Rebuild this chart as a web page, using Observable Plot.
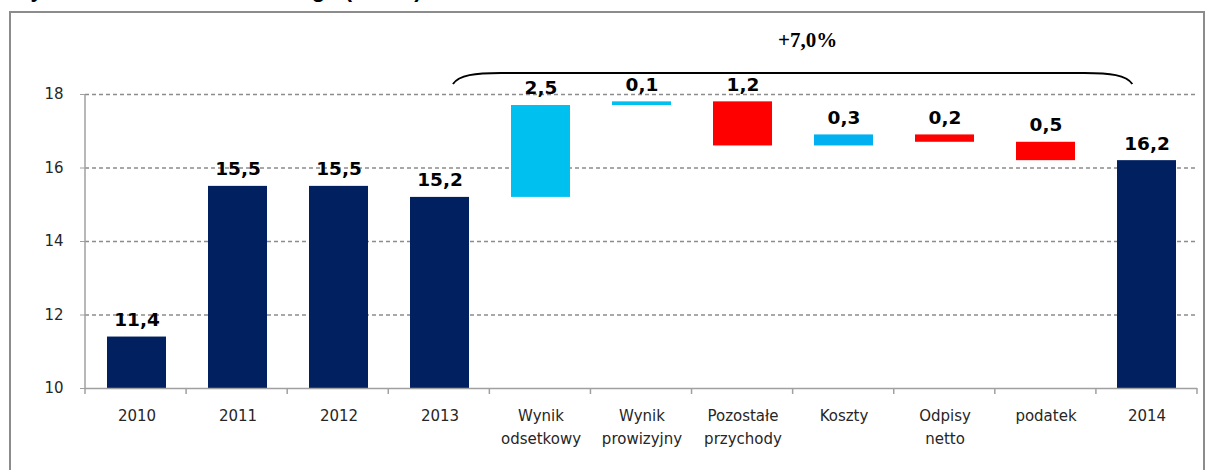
<!DOCTYPE html>
<html>
<head>
<meta charset="utf-8">
<script src="https://cdn.jsdelivr.net/npm/d3@7"></script>
<script src="https://cdn.jsdelivr.net/npm/@observablehq/plot@0.6"></script>
<style>
  html, body { margin: 0; padding: 0; background: #fff; }
  body { width: 1213px; height: 470px; position: relative; overflow: hidden; }
  #title { position: absolute; left: 17px; top: -21px; font: bold 22px/22px "Liberation Sans", Arial, sans-serif; color: #000; white-space: nowrap; }
  #frame { position: absolute; left: 9px; top: 11px; width: 1196px; height: 480px; border: 2px solid #8c8c8c; box-sizing: border-box; }
  #chart { position: absolute; left: 0; top: 0; }
  #chart svg { overflow: visible; }
</style>
</head>
<body>
<div id="title">Zysk netto sektora bankowego (mld zł)</div>
<div id="frame"></div>
<div id="chart"></div>
<script>
// ---- data ----
const categories = ["2010", "2011", "2012", "2013", "Wynik\nodsetkowy", "Wynik\nprowizyjny",
                    "Pozostałe\nprzychody", "Koszty", "Odpisy\nnetto", "podatek", "2014"];
const barFrom = [10, 10, 10, 10, 15.2, 17.7, 17.8, 16.6, 16.9, 16.7, 10];
const barTo   = [11.4, 15.5, 15.5, 15.2, 17.7, 17.8, 16.6, 16.9, 16.7, 16.2, 16.2];
const valueLabels = ["11,4", "15,5", "15,5", "15,2", "2,5", "0,1", "1,2", "0,3", "0,2", "0,5", "16,2"];
const barKinds = ["total", "total", "total", "total", "income", "income", "loss", "costs", "loss", "loss", "total"];
const yTicks = [10, 12, 14, 16, 18];
const changeLabel = "+7,0%";
const bracketFrom = "2013";
const bracketTo = "2014";

// ---- styles ----
const kindDomain = ["total", "income", "costs", "loss"];
const kindColors = ["#002060", "#00C0F0", "#00B0F0", "#FF0000"];
const axisGray = "#a0a0a0";

const data = categories.map((c, i) => ({
  category: c,
  from: barFrom[i],
  to: barTo[i],
  top: Math.max(barFrom[i], barTo[i]),
  label: valueLabels[i],
  kind: barKinds[i]
}));

const svgNS = "http://www.w3.org/2000/svg";
function el(name, attrs) {
  const e = document.createElementNS(svgNS, name);
  for (const k in attrs) e.setAttribute(k, attrs[k]);
  return e;
}

// custom annotation mark: axis lines, category ticks, bracket and change label
function annotations(...args) {
  let scales, dims;
  if (args[1] && typeof args[1].y === "function") { scales = args[1]; dims = args[3]; }
  else { scales = args[0]; dims = args[1]; }
  const g = el("g", {});
  const left = dims.marginLeft, right = dims.width - dims.marginRight;
  const n = categories.length;
  const step = (right - left) / n;
  const center = c => left + step * (categories.indexOf(c) + 0.5);
  const y0 = scales.y(yTicks[0]);
  const yMax = scales.y(yTicks[yTicks.length - 1]);
  // y axis line
  g.appendChild(el("line", {x1: left, x2: left, y1: yMax, y2: y0, stroke: axisGray, "stroke-width": 1.5}));
  // category boundary ticks
  for (let i = 0; i <= n; i++) {
    const x = left + i * step;
    g.appendChild(el("line", {x1: x, x2: x, y1: y0, y2: y0 + 6, stroke: axisGray, "stroke-width": 1.5}));
  }
  // bracket
  const bx0 = center(bracketFrom) + 0.14 * step;
  const bx1 = center(bracketTo) - 0.14 * step;
  const byEnd = yMax - 10, byTop = yMax - 21;
  const d = `M${bx0},${byEnd} C${bx0 + 6},${byTop + 2} ${bx0 + 22},${byTop} ${bx0 + 48},${byTop}` +
            ` L${bx1 - 48},${byTop} C${bx1 - 22},${byTop} ${bx1 - 6},${byTop + 2} ${bx1},${byEnd}`;
  g.appendChild(el("path", {d, fill: "none", stroke: "#000", "stroke-width": 2}));
  // change label
  const t = el("text", {
    x: (bx0 + bx1) / 2 + 15, y: yMax - 54, "text-anchor": "middle", "dominant-baseline": "central", fill: "#000",
    style: "font-family: 'Liberation Serif', 'DejaVu Serif', 'Times New Roman', serif; font-weight: bold; font-size: 21px;"
  });
  t.textContent = changeLabel;
  g.appendChild(t);
  return g;
}

const chart = Plot.plot({
  width: 1213,
  height: 470,
  marginLeft: 85,
  marginRight: 16,
  marginTop: 94,
  marginBottom: 82,
  style: { fontFamily: "DejaVu Sans, sans-serif", fontSize: "15px", background: "transparent", color: "#262626" },
  x: { type: "band", domain: categories, paddingInner: 0.42, paddingOuter: 0.21 },
  y: { domain: [yTicks[0], yTicks[yTicks.length - 1]] },
  color: { domain: kindDomain, range: kindColors },
  marks: [
    Plot.gridY(yTicks.slice(1), { stroke: "#8c8c8c", strokeOpacity: 1, strokeWidth: 1.5, strokeDasharray: "4,3" }),
    Plot.barY(data, { x: "category", y1: "from", y2: "to", fill: "kind" }),
    Plot.ruleY([yTicks[0]], { stroke: axisGray, strokeWidth: 1.5 }),
    Plot.axisY({ ticks: yTicks, tickSize: 5, tickPadding: 17, stroke: axisGray, fill: "#262626", tickFormat: d => String(d), label: null }),
    Plot.axisX({ tickSize: 0, tickPadding: 17, lineHeight: 1.5, fill: "#262626", label: null }),
    Plot.text(data, { x: "category", y: "top", text: "label", dy: -17, fontWeight: "bold", fontSize: 18.5, fill: "#000" }),
    annotations
  ]
});
document.getElementById("chart").appendChild(chart);
</script>
</body>
</html>
